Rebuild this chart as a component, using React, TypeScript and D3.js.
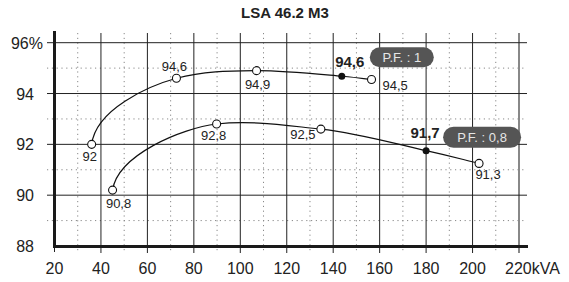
import React from 'react';
import * as d3 from 'd3';

// PF 1 curve (kVA, plotted efficiency %)
const kvaPf1 = [36, 72.5, 107, 143.7, 156.5];
const effPf1 = [92, 94.6, 94.9, 94.68, 94.55];
const labelsPf1 = ['92', '94,6', '94,9', '', '94,5'];

// PF 0.8 curve
const kvaPf08 = [45, 89.8, 134.7, 180, 202.8];
const effPf08 = [90.2, 92.8, 92.6, 91.75, 91.25];
const labelsPf08 = ['90,8', '92,8', '92,5', '', '91,3'];

// index of the rated point on each curve
const ratedIdx = 3;
const ratedLabels = ['94,6', '91,7'];
const pfLabels = ['P.F. : 1', 'P.F. : 0,8'];

const xTicks = [20, 40, 60, 80, 100, 120, 140, 160, 180, 200, 220];
const yTicks = [88, 90, 92, 94, 96];
const title = 'LSA 46.2 M3';

const W = 569;
const H = 282;
const font = '"Liberation Sans", Arial, Helvetica, sans-serif';

// label offsets per point [dx, dy, anchor]
const offsPf1: [number, number, string][] = [
  [-2, 17, 'middle'], [-2, -7, 'middle'], [1, 18, 'middle'], [0, 0, 'middle'], [11, 10, 'start'],
];
const offsPf08: [number, number, string][] = [
  [6, 18, 'middle'], [-3, 16, 'middle'], [-18, 10, 'middle'], [0, 0, 'middle'], [9, 16, 'middle'],
];
const ratedOffs = [[8, -9], [-1, -13]];
const badgeOffs = [
  { dx: 28, dy: -29, w: 64, h: 20 },
  { dx: 17, dy: -24, w: 78, h: 21 },
];

// cubic hermite curve, steep first tangent (efficiency rises fast at low load),
// geometric-mean slopes inside, damped slopes at the peaks
class SteepStartCurve {
  _context: any;
  _xs: number[] = [];
  _ys: number[] = [];
  constructor(context: any) {
    this._context = context;
  }
  areaStart() {}
  areaEnd() {}
  lineStart() {
    this._xs = [];
    this._ys = [];
  }
  point(x: number, y: number) {
    this._xs.push(+x);
    this._ys.push(+y);
  }
  lineEnd() {
    const xs = this._xs;
    const ys = this._ys;
    const n = xs.length;
    const c = this._context;
    if (!n) return;
    c.moveTo(xs[0], ys[0]);
    if (n < 2) return;
    const mx: number[] = [];
    const my: number[] = [];
    for (let i = 0; i < n; i++) {
      if (i === 0) {
        mx.push(0.15 * (xs[1] - xs[0]));
        my.push(1.6 * (ys[1] - ys[0]));
      } else if (i === n - 1) {
        mx.push(xs[i] - xs[i - 1]);
        my.push(ys[i] - ys[i - 1]);
      } else {
        const s0 = (ys[i] - ys[i - 1]) / (xs[i] - xs[i - 1]);
        const s1 = (ys[i + 1] - ys[i]) / (xs[i + 1] - xs[i]);
        const slope = s0 * s1 > 0
          ? Math.sign(s0) * Math.sqrt(s0 * s1)
          : 0.4 * (s0 + s1) / 2;
        const dx = (xs[i + 1] - xs[i - 1]) / 2;
        mx.push(dx);
        my.push(dx * slope);
      }
    }
    for (let i = 0; i < n - 1; i++) {
      c.bezierCurveTo(
        xs[i] + mx[i] / 3, ys[i] + my[i] / 3,
        xs[i + 1] - mx[i + 1] / 3, ys[i + 1] - my[i + 1] / 3,
        xs[i + 1], ys[i + 1]
      );
    }
  }
}
const curveSteepStart = (context: any) => new SteepStartCurve(context);

const App = () => {
  const x = d3.scaleLinear().domain([20, 220]).range([54.5, 519]);
  const y = d3.scaleLinear().domain([88, 96]).range([246, 42.7]);

  const line = d3
    .line<[number, number]>()
    .x(d => x(d[0]))
    .y(d => y(d[1]))
    .curve(curveSteepStart as any);

  const series = [
    { kva: kvaPf1, eff: effPf1, labels: labelsPf1, offs: offsPf1 },
    { kva: kvaPf08, eff: effPf08, labels: labelsPf08, offs: offsPf08 },
  ];

  const minorX = d3.range(30, 220, 20);
  const minorY = d3.range(89, 96, 2);
  const gridTop = 33;
  const gridBottom = 253;
  const gridLeft = 47;
  const gridRight = 527;

  return (
    <svg
      width={W}
      height={H}
      style={{ position: 'absolute', left: 0, top: 0, background: '#fff' }}
      fontFamily={font}
    >
      <text x={285} y={18} textAnchor="middle" fontSize={15} fontWeight="bold" fill="#222">
        {title}
      </text>

      {/* dotted minor grid */}
      {minorX.map(v => (
        <line key={'mx' + v} x1={x(v)} x2={x(v)} y1={gridTop} y2={gridBottom}
          stroke="#888" strokeWidth={1} strokeDasharray="1.2 3.6" />
      ))}
      {minorY.map(v => (
        <line key={'my' + v} x1={gridLeft} x2={gridRight} y1={y(v)} y2={y(v)}
          stroke="#888" strokeWidth={1} strokeDasharray="1.2 3.6" />
      ))}

      {/* major grid */}
      {xTicks.slice(1).map(v => (
        <line key={'gx' + v} x1={x(v)} x2={x(v)} y1={gridTop} y2={gridBottom}
          stroke={v === 220 ? '#888' : '#222'} strokeWidth={v === 220 ? 2 : 1} />
      ))}
      {yTicks.slice(1).map(v => (
        <line key={'gy' + v} x1={gridLeft} x2={gridRight} y1={y(v)} y2={y(v)}
          stroke="#222" strokeWidth={1} />
      ))}
      <line x1={x(20)} x2={x(20)} y1={246} y2={252} stroke="#222" strokeWidth={1} />

      {/* axes */}
      <line x1={54.5} x2={54.5} y1={31} y2={247.5} stroke="#1a1a1a" strokeWidth={3} />
      <line x1={53} x2={528} y1={246.5} y2={246.5} stroke="#1a1a1a" strokeWidth={3} />

      {/* y labels */}
      {yTicks.map(v => (
        <text key={'yl' + v} x={v === 96 ? 43 : 34} y={y(v) + 6} textAnchor="end"
          fontSize={16} fill="#222">
          {v === 96 ? '96%' : String(v)}
        </text>
      ))}
      {/* x labels */}
      {xTicks.map(v => (
        <text key={'xl' + v} x={v === 220 ? x(v) - 14 : x(v)} y={274}
          textAnchor={v === 220 ? 'start' : 'middle'} fontSize={16} fill="#222">
          {v === 220 ? '220kVA' : String(v)}
        </text>
      ))}

      {series.map((s, si) => {
        const pts = s.kva.map((k, i) => [k, s.eff[i]] as [number, number]);
        const rp = pts[ratedIdx];
        const b = badgeOffs[si];
        return (
          <g key={'s' + si}>
            <path d={line(pts) || ''} fill="none" stroke="#111" strokeWidth={1.2} />
            {pts.map((p, i) =>
              i === ratedIdx ? (
                <circle key={i} cx={x(p[0])} cy={y(p[1])} r={3.5} fill="#111" />
              ) : (
                <circle key={i} cx={x(p[0])} cy={y(p[1])} r={4} fill="#fff" stroke="#111" strokeWidth={1.1} />
              )
            )}
            {pts.map((p, i) =>
              i === ratedIdx ? null : (
                <text key={'t' + i} x={x(p[0]) + s.offs[i][0]} y={y(p[1]) + s.offs[i][1]}
                  textAnchor={s.offs[i][2]} fontSize={13} fill="#222">
                  {s.labels[i]}
                </text>
              )
            )}
            <text x={x(rp[0]) + ratedOffs[si][0]} y={y(rp[1]) + ratedOffs[si][1]}
              textAnchor="middle" fontSize={15} fontWeight="bold" fill="#222">
              {ratedLabels[si]}
            </text>
            <rect x={x(rp[0]) + b.dx} y={y(rp[1]) + b.dy} width={b.w} height={b.h}
              rx={b.h / 2} fill="#555" />
            <text x={x(rp[0]) + b.dx + b.w / 2} y={y(rp[1]) + b.dy + b.h / 2 + 4.5}
              textAnchor="middle" fontSize={13} fill="#e6e6e6">
              {pfLabels[si]}
            </text>
          </g>
        );
      })}
    </svg>
  );
};

export default App;
